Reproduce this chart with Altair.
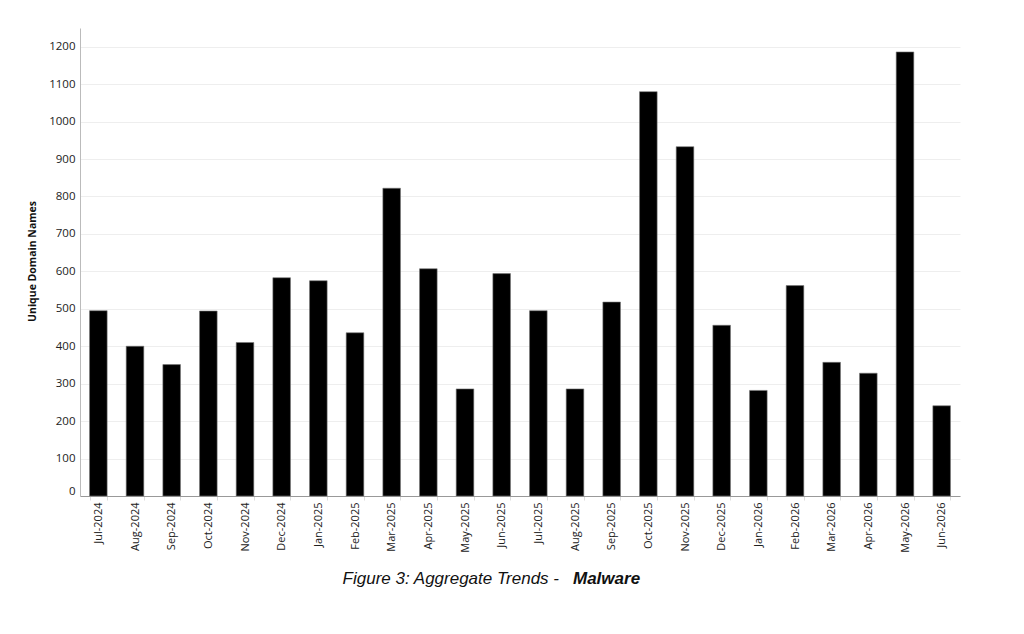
import altair as alt
import pandas as pd

months = ["Jul-2024", "Aug-2024", "Sep-2024", "Oct-2024", "Nov-2024", "Dec-2024",
          "Jan-2025", "Feb-2025", "Mar-2025", "Apr-2025", "May-2025", "Jun-2025",
          "Jul-2025", "Aug-2025", "Sep-2025", "Oct-2025", "Nov-2025", "Dec-2025",
          "Jan-2026", "Feb-2026", "Mar-2026", "Apr-2026", "May-2026", "Jun-2026"]
values = [495, 400, 351, 494, 410, 583,
          575, 436, 822, 607, 286, 594,
          495, 286, 518, 1080, 933, 456,
          282, 562, 357, 328, 1186, 241]
y_ticks = list(range(0, 1201, 100))
title_main = "Figure 3: Aggregate Trends -"
title_bold = "Malware"

df = pd.DataFrame({"month": months, "value": values})

bars = alt.Chart(df).mark_bar(color="black", stroke="#777", strokeWidth=0.6).encode(
    x=alt.X("month:N", sort=months,
            scale=alt.Scale(paddingInner=0.52, paddingOuter=0.26),
            axis=alt.Axis(title=None, labelAngle=-90, labelAlign="right",
                          labelBaseline="middle",
                          labelFont="Open Sans", labelFontSize=11,
                          labelColor="#222", tickBand="extent",
                          tickColor="#ddd", tickSize=4, labelPadding=2,
                          domainColor="#999", grid=False)),
    y=alt.Y("value:Q",
            scale=alt.Scale(domain=[0, 1250], nice=False),
            axis=alt.Axis(title="Unique Domain Names", values=y_ticks, format="d",
                          labelFont="Open Sans", labelFontSize=11.5,
                          labelColor="#222", labelFlush=True,
                          ticks=False, tickSize=0, labelPadding=5,
                          domainColor="#bbb", gridColor="#eeeeee",
                          titleFont="Open Sans", titleFontSize=10.5,
                          titleFontWeight="bold", titleColor="#111",
                          titleAngle=-90, titleX=-43, titleY=233,
                          titleAlign="center", titleBaseline="bottom")),
)

t1 = alt.Chart(pd.DataFrame({"t": [title_main]})).mark_text(
    font="Liberation Sans", fontSize=17, fontStyle="italic", align="right",
    baseline="middle", color="#111"
).encode(text="t:N", x=alt.value(479), y=alt.value(551))

t2 = alt.Chart(pd.DataFrame({"t": [title_bold]})).mark_text(
    font="Liberation Sans", fontSize=17, fontStyle="italic", fontWeight="bold",
    align="left", baseline="middle", color="#111"
).encode(text="t:N", x=alt.value(493), y=alt.value(551))

chart = alt.layer(bars, t1, t2).properties(
    width=880, height=468,
    autosize=alt.AutoSizeParams(type="none"),
    padding={"left": 72, "top": 20, "right": 56, "bottom": 130},
).configure_view(stroke=None)

chart.save("out.html", embed_options={"renderer": "svg", "actions": False})
